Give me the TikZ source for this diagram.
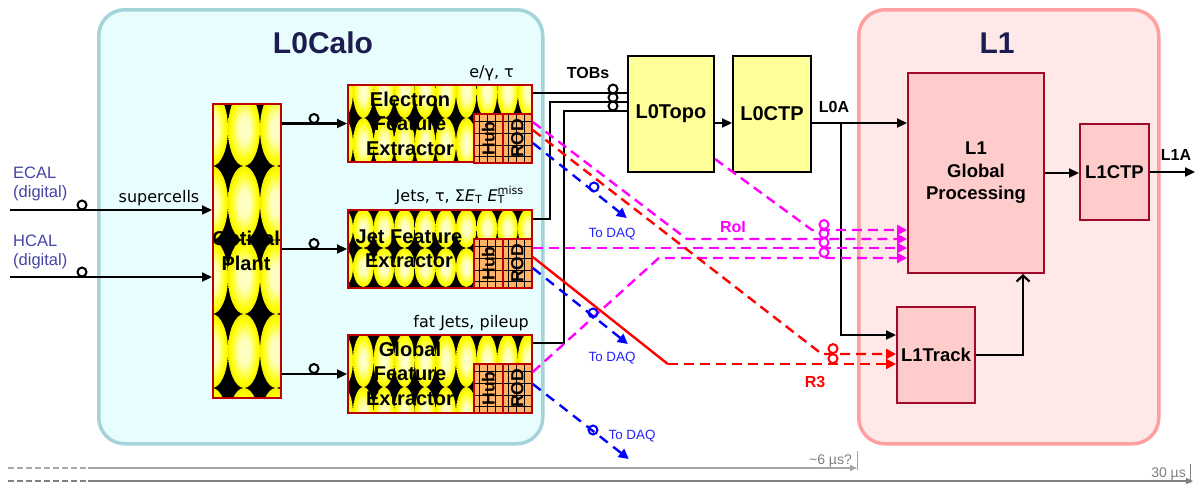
\documentclass[tikz,border=0pt]{standalone}
\usepackage{fontspec}
\setmainfont{Liberation Sans}
\newfontfamily\dejavu{DejaVu Sans}
\usetikzlibrary{arrows.meta,calc}
\definecolor{calofill}{HTML}{E8FEFE}
\definecolor{caloedge}{HTML}{A4D4DA}
\definecolor{lonefill}{HTML}{FFE8E8}
\definecolor{loneedge}{HTML}{FFA0A0}
\definecolor{navy}{HTML}{1C1C50}
\definecolor{boxred}{HTML}{C00000}
\definecolor{hubfill}{HTML}{FFB468}
\definecolor{topofill}{HTML}{FFFF99}
\definecolor{lbfill}{HTML}{FFCCCC}
\definecolor{lbedge}{HTML}{A00A28}
\definecolor{mag}{HTML}{FF00FF}
\definecolor{calblue}{HTML}{4444A4}
\definecolor{daqblue}{HTML}{2222FF}
\definecolor{tgray}{HTML}{A6A6A6}
\definecolor{tgray2}{HTML}{7F7F7F}
\pgfdeclareradialshading{yell}{\pgfpointorigin}{rgb(0bp)=(1,1,0.8); rgb(9bp)=(1,1,0.72); rgb(16bp)=(1,1,0.3); rgb(21bp)=(1,1,0); rgb(25bp)=(0.96,0.94,0); rgb(50bp)=(0.96,0.94,0)}
\newcommand{\ypat}[8]{%
 \begin{scope}
 \clip (#1,#2) rectangle (#3,#4);
 \fill[black] (#1,#2) rectangle (#3,#4);
 \foreach \i in {-1,...,10}{%
  \foreach \j in {-3,...,6}{%
   \shade[shading=yell] ({#5+(\i-0.5)*#7},{#6+(\j-0.5)*#8}) ellipse [x radius={#7*0.5}, y radius={#8*0.5}];
  }}
 \end{scope}}
\newcommand{\tring}[3][black]{\draw[#1, line width=2pt] (#2,#3) circle[radius=4.5];}
\newcommand{\hubgrid}[1]{%
 \foreach \dx in {6,14,22}{\draw[line width=0.45pt] ($(#1.north west)+(\dx,2)$) -- ($(#1.south west)+(\dx,-2)$);}
 \foreach \dy in {8,20,32,43}{\draw[line width=0.45pt] ($(#1.north west)+(2,\dy)$) -- ($(#1.north east)+(-2,\dy)$);}
}
\begin{document}
\begin{tikzpicture}[x=1pt,y=-1pt,
 wire/.style={line width=2.2pt},
 conn/.style={line width=2.2pt, -{Triangle[length=10pt,width=9pt]}},
 magl/.style={draw=mag, line width=2.4pt, dash pattern=on 10pt off 6pt},
 redd/.style={draw=red, line width=2.4pt, dash pattern=on 10pt off 6pt},
 bluel/.style={draw=blue, line width=2.4pt, dash pattern=on 10pt off 7pt},
 tip/.style={-{Triangle[length=10pt,width=10pt]}},
 container/.style={rounded corners=26pt, line width=3.5pt, inner sep=0pt, anchor=north west},
 fe/.style={draw=boxred, line width=2pt, inner sep=0pt, anchor=north west},
 hr/.style={draw=boxred, fill=hubfill, line width=1.8pt, inner sep=0pt, anchor=north west, minimum width=29pt, minimum height=49pt},
 hrtext/.style={font=\fontsize{17.5}{20}\selectfont\bfseries, inner sep=0pt},
 fetext/.style={font=\fontsize{20}{24.5}\selectfont\bfseries, align=center, inner sep=0pt},
 topobox/.style={draw=black, fill=topofill, line width=2pt, inner sep=0pt, anchor=north west, font=\fontsize{20}{24}\selectfont\bfseries},
 lonebox/.style={draw=lbedge, fill=lbfill, line width=2pt, inner sep=0pt, anchor=north west, align=center, font=\fontsize{18.5}{22.5}\selectfont\bfseries},
 sig/.style={font=\fontsize{16}{19}\selectfont\bfseries, inner sep=0pt, anchor=base},
 dv/.style={font=\dejavu\fontsize{16}{19}\selectfont, inner sep=0pt},
 daq/.style={text=daqblue, font=\fontsize{13.4}{16}\selectfont, inner sep=0pt},
 calin/.style={text=calblue, font=\fontsize{16.5}{19}\selectfont, inner sep=0pt, anchor=west, align=left},
 title/.style={text=navy, font=\fontsize{30}{36}\selectfont\bfseries, inner sep=0pt, anchor=base},
 tl/.style={text=tgray2, font=\fontsize{14}{16}\selectfont, inner sep=0pt, anchor=base east},
]
\useasboundingbox (0,0) rectangle (1198,485);
% containers
\node[container, draw=caloedge, fill=calofill, minimum width=444pt, minimum height=434pt] (calo) at (97,8) {};
\node[container, draw=loneedge, fill=lonefill, minimum width=300pt, minimum height=434pt] (lone) at (857,8) {};
\node[title] (calotitle) at (323,53) {L0Calo};
\node[title] (lonetitle) at (997,53) {L1};
% yellow patterns
\ypat{212}{103}{280}{397}{228}{166}{32}{74}
\ypat{347}{84}{531}{161}{353}{118}{20.6}{52}
\ypat{347}{209}{531}{287}{353}{248}{20.6}{39}
\ypat{347}{334}{531}{412}{353}{387}{20.6}{53}
% boxes
\node[fe, minimum width=68pt, minimum height=294pt] (plant) at (212,103) {};
\node[fe, minimum width=184pt, minimum height=77pt] (elec) at (347,84) {};
\node[fe, minimum width=184pt, minimum height=78pt] (jet) at (347,209) {};
\node[fe, minimum width=184pt, minimum height=78pt] (glob) at (347,334) {};
\node[fetext] (planttext) at (246,250.7) {Optical\\Plant};
\node[fetext] (electext) at (410,123.5) {Electron\\Feature\\Extractor};
\node[fetext] (jettext) at (409,248.6) {Jet Feature\\Extractor};
\node[fetext] (globtext) at (410,373.8) {Global\\Feature\\Extractor};
\node[hr] (hubE) at (473,113) {};
\node[hr] (rodE) at (502,113) {};
\node[hr] (hubJ) at (473,238) {};
\node[hr] (rodJ) at (502,238) {};
\node[hr] (hubG) at (473,363) {};
\node[hr] (rodG) at (502,363) {};
\hubgrid{hubE}\hubgrid{rodE}\hubgrid{hubJ}\hubgrid{rodJ}\hubgrid{hubG}\hubgrid{rodG}
\foreach \b in {hubE,hubJ,hubG}{\node[hrtext] at (\b.center) {\rotatebox{90}{Hub}};}
\foreach \b in {rodE,rodJ,rodG}{\node[hrtext] at (\b.center) {\rotatebox{90}{ROD}};}
\node[topobox, minimum width=86pt, minimum height=116pt] (topo) at (627,55) {L0Topo};
\node[topobox, minimum width=78pt, minimum height=116pt] (ctp0) at (732,55) {L0CTP};
\node[lonebox, minimum width=136pt, minimum height=200pt] (gp) at (907,72) {L1\\Global\\Processing};
\node[lonebox, minimum width=69pt, minimum height=96pt] (ctp1) at (1079,123) {L1CTP};
\node[lonebox, minimum width=78pt, minimum height=96pt] (trk) at (896,306) {L1Track};
% text labels
\node[calin] (ecal) at (13,184.3) {ECAL\\(digital)};
\node[calin] (hcal) at (13,251.8) {HCAL\\(digital)};
\node[dv, anchor=base] (sc) at (159,202) {supercells};
\node[dv, anchor=base east] (egl) at (514,77) {e/γ, τ};
\node[dv, anchor=base east] (jetl) at (524,201) {Jets, τ, Σ\textit{E}\textsubscript{T} \textit{E}\rlap{\textsubscript{T}}\textsuperscript{miss}};
\node[dv, anchor=base east] (fatl) at (529,327) {fat Jets, pileup};
\node[sig] (tobs) at (588,78.3) {TOBs};
\node[sig] (l0al) at (834,112.7) {L0A};
\node[sig] (l1al) at (1176,160.7) {L1A};
\node[sig, text=mag] (roil) at (733,232.3) {RoI};
\node[sig, text=red] (r3l) at (815,387.7) {R3};
% inputs
\coordinate (ecalin) at (10,210);
\coordinate (hcalin) at (10,277);
\draw[conn] (ecalin) -- (ecalin -| plant.west);
\draw[conn] (hcalin) -- (hcalin -| plant.west);
\tring{82}{205}\tring{82}{272}
\draw[conn] (plant.east |- elec.west) -- (elec.west);
\draw[conn] (plant.east |- jet.west) -- (jet.west);
\draw[conn] (plant.east |- glob.west) -- (glob.west);
\tring{314}{118.5}\tring{314}{243.5}\tring{314}{368.5}
% TOBs
\draw[wire] ($(elec.north east)+(0,9)$) coordinate (tobE) -- (tobE -| topo.west);
\draw[wire] ($(jet.north east)+(0,10)$) -| ($(topo.north west)+(-77,47)$) -- ($(topo.north west)+(0,47)$);
\draw[wire] ($(glob.north east)+(0,9)$) -| ($(topo.north west)+(-63,56)$) -- ($(topo.north west)+(0,56)$);
\tring{613}{89}\tring{613}{97.5}\tring{613}{106}
\draw[conn] ($(topo.east)+(0,9)$) -- ($(ctp0.west)+(0,9)$);
\draw[conn] ($(ctp0.east)+(0,9)$) coordinate (l0a) -- (l0a -| gp.west);
\draw[conn] ($(l0a)+(29,0)$) |- ($(trk.north west)+(0,29)$);
\draw[conn] (gp.east) -- (gp.east -| ctp1.west);
\draw[conn] (ctp1.east) -- ++(45,0) coordinate (l1aout);
\draw[line width=2.2pt, -{Straight Barb[length=6pt,width=13pt]}] (trk.east) -| ($(gp.south east)+(-22,0)$);
% RoI
\draw[magl, tip] ($(rodE.north east)+(0,9)$) -- ++(154,117) coordinate (m1) -- (m1 -| gp.west);
\draw[magl, tip] ($(rodJ.north east)+(0,10)$) coordinate (m2) -- (m2 -| gp.west);
\draw[magl, tip] ($(rodG.north east)+(0,9)$) -- ++(126,-114) coordinate (m3) -- (m3 -| gp.west);
\draw[magl, tip] ($(topo.south east)+(0,-14)$) -- ++(97,71) coordinate (m4) -- (m4 -| gp.west);
\tring[mag]{824}{224.5}\tring[mag]{824}{233.5}\tring[mag]{824}{242.5}\tring[mag]{824}{252.5}
% R3
\draw[redd, tip] ($(rodE.north east)+(0,17)$) -- ++(289,224) coordinate (r1) -- (r1 -| trk.west);
\draw[red, line width=2.4pt] ($(rodJ.north east)+(0,19)$) -- ++(135,107) coordinate (r2);
\draw[redd, tip] (r2) -- (r2 -| trk.west);
\tring[red]{833}{348.6}\tring[red]{833}{358.6}
% To DAQ
\draw[bluel, tip] ($(rodE.north east)+(0,30)$) -- ++(94,75) coordinate (daq1);
\draw[bluel, tip] ($(rodJ.north east)+(0,30)$) -- ++(95,76) coordinate (daq2);
\draw[bluel, tip] ($(rodG.north east)+(0,21)$) -- ++(96,75) coordinate (daq3);
\tring[blue]{594}{187}\tring[blue]{593}{313}\tring[blue]{593}{430}
\node[daq] (daql1) at (612,234) {To DAQ};
\node[daq] (daql2) at (612,358.5) {To DAQ};
\node[daq] (daql3) at (632,436.5) {To DAQ};
% timeline
\coordinate (t1s) at (8,468);
\coordinate (t1e) at (857,468);
\coordinate (t2s) at (8,481);
\coordinate (t2e) at (1193,481);
\draw[tgray, line width=1.6pt, dash pattern=on 6pt off 3pt] (t1s) -- ++(80,0) coordinate (t1m);
\draw[tgray, line width=1.6pt, -{Triangle[length=7pt,width=6pt]}] (t1m) -- (t1e);
\draw[tgray, line width=1pt] ($(t1e)+(0,-17)$) -- ($(t1e)+(0,2)$);
\draw[tgray2, line width=1.6pt, dash pattern=on 6pt off 3pt] (t2s) -- ++(80,0) coordinate (t2m);
\draw[tgray2, line width=1.6pt, -{Triangle[length=7pt,width=6pt]}] (t2m) -- (t2e);
\draw[tgray2, line width=1pt] ($(t2e)+(-3,-17)$) -- ($(t2e)+(-3,2)$);
\node[tl] (t1l) at (852,464) {\textasciitilde6 µs?};
\node[tl] (t2l) at (1186,477) {30 µs};
\end{tikzpicture}
\end{document}
